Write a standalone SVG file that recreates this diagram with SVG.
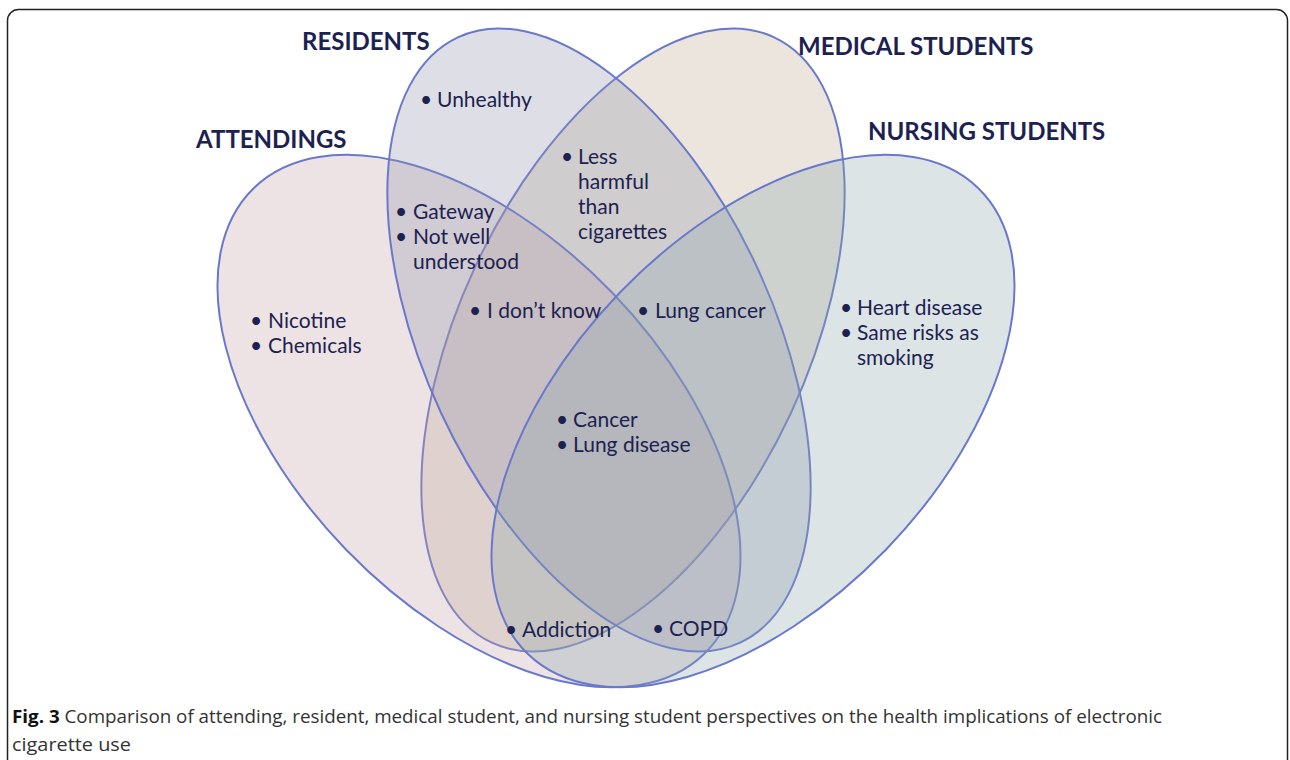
<svg xmlns="http://www.w3.org/2000/svg" width="1290" height="760" viewBox="0 0 1290 760">
<style>
.set{stroke:#6a78cc;stroke-width:2;fill-opacity:0.3}
.lbl{font-family:Lato,"Open Sans",sans-serif;font-weight:bold;font-size:24px;fill:#1c2250}
.item{font-family:Lato,"Open Sans",sans-serif;font-size:21px;fill:#1c2250}
.cap{font-family:"Open Sans","Liberation Sans",sans-serif;font-size:18px;fill:#333}
</style>
<rect x="7.5" y="9.5" width="1280" height="820" rx="11" fill="#fff" stroke="#222" stroke-width="1.5"/>
<g id="medical-students">
<ellipse class="set" cx="633" cy="340" rx="334" ry="174" transform="rotate(-65 633 340)" fill="#bca891"/>
<text class="lbl" x="798" y="55">MEDICAL STUDENTS</text>
</g>
<g id="attendings">
<ellipse class="set" cx="479" cy="421" rx="324" ry="185" transform="rotate(46 479 421)" fill="#c3a2a5"/>
<text class="lbl" x="196" y="148">ATTENDINGS</text>
</g>
<g id="residents">
<ellipse class="set" cx="599" cy="340" rx="334" ry="174" transform="rotate(65 599 340)" fill="#9194ac"/>
<text class="lbl" x="302" y="50">RESIDENTS</text>
</g>
<g id="nursing-students">
<ellipse class="set" cx="753" cy="421" rx="324" ry="185" transform="rotate(-46 753 421)" fill="#8aa5ac"/>
<text class="lbl" x="868" y="140">NURSING STUDENTS</text>
</g>
<g id="items" class="item">
<text y="107"><tspan x="420">•</tspan><tspan x="437">Unhealthy</tspan></text>
<text y="164"><tspan x="561">•</tspan><tspan x="578">Less</tspan></text>
<text x="578" y="189">harmful</text>
<text x="578" y="214">than</text>
<text x="578" y="239">cigarettes</text>
<text y="219"><tspan x="395">•</tspan><tspan x="413">Gateway</tspan></text>
<text y="244"><tspan x="395">•</tspan><tspan x="413">Not well</tspan></text>
<text x="413" y="269">understood</text>
<text y="328"><tspan x="250">•</tspan><tspan x="268">Nicotine</tspan></text>
<text y="353"><tspan x="250">•</tspan><tspan x="268">Chemicals</tspan></text>
<text y="318"><tspan x="469">•</tspan><tspan x="487">I don’t know</tspan></text>
<text y="318"><tspan x="637">•</tspan><tspan x="655">Lung cancer</tspan></text>
<text y="315"><tspan x="840">•</tspan><tspan x="857">Heart disease</tspan></text>
<text y="340"><tspan x="840">•</tspan><tspan x="857">Same risks as</tspan></text>
<text x="857" y="365">smoking</text>
<text y="427"><tspan x="556">•</tspan><tspan x="573">Cancer</tspan></text>
<text y="452"><tspan x="556">•</tspan><tspan x="573">Lung disease</tspan></text>
<text y="637"><tspan x="505">•</tspan><tspan x="522">Addiction</tspan></text>
<text y="636"><tspan x="652">•</tspan><tspan x="669">COPD</tspan></text>
</g>
<g id="caption" class="cap">
<text x="12" y="723" textLength="1150" lengthAdjust="spacingAndGlyphs"><tspan font-weight="bold" fill="#111">Fig. 3</tspan> Comparison of attending, resident, medical student, and nursing student perspectives on the health implications of electronic</text>
<text x="12" y="751" textLength="119" lengthAdjust="spacingAndGlyphs">cigarette use</text>
</g>
</svg>
